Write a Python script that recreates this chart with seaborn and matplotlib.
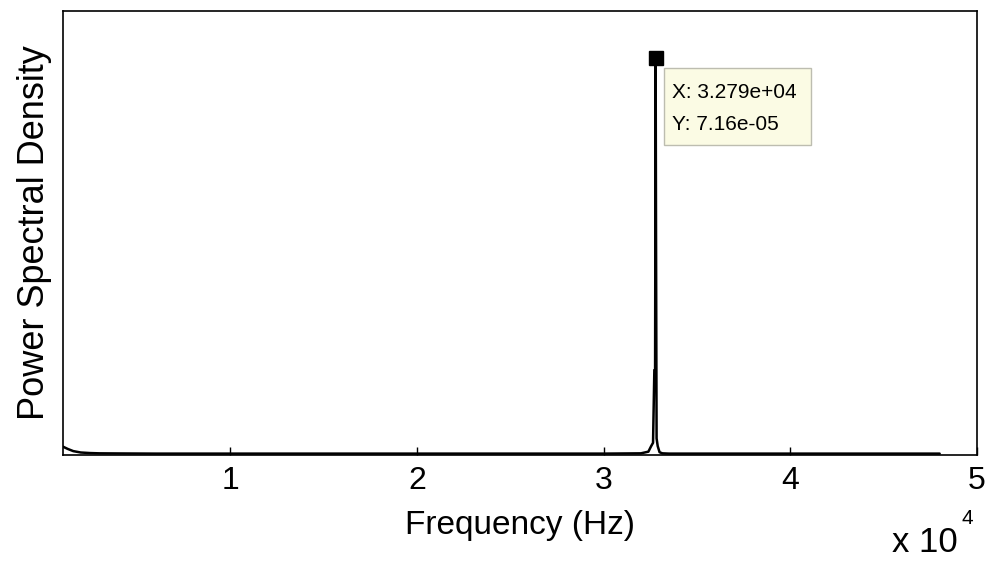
import numpy as np
import pandas as pd
import matplotlib
matplotlib.use("Agg")
import matplotlib.pyplot as plt
import seaborn as sns
from matplotlib.patches import FancyBboxPatch

# ---- data ----
freq_hz = [1050, 1300, 1600, 2000, 2500, 3000, 4000, 6000, 10000, 15000, 20000, 25000,
           30000, 32000, 32400, 32550, 32650, 32720, 32760, 32790, 32810, 32840,
           32900, 33000, 33150, 33500, 36000, 40000, 44000, 48000]
psd = [1.5e-6, 1.1e-6, 0.7e-6, 0.45e-6, 0.35e-6, 0.3e-6, 0.28e-6, 0.25e-6, 0.25e-6, 0.25e-6,
       0.25e-6, 0.25e-6, 0.25e-6, 0.3e-6, 0.6e-6, 1.6e-6, 2.2e-6, 1.53e-5, 1.53e-5, 7.16e-5,
       3.96e-5, 3.0e-6, 1.6e-6, 0.5e-6, 0.3e-6, 0.25e-6, 0.25e-6, 0.25e-6, 0.25e-6, 0.25e-6]
peak_x = 32790
peak_y = 7.16e-5
tick_vals = [10000, 20000, 30000, 40000, 50000]
tick_labels = ["1", "2", "3", "4", "5"]
x_label = "Frequency (Hz)"
y_label = "Power Spectral Density"
tip_lines = ["X: 3.279e+04", "Y: 7.16e-05"]

df = pd.DataFrame({"f": freq_hz, "p": psd})

sns.set_style("white")
plt.rcParams["font.family"] = ["Liberation Sans", "DejaVu Sans"]
plt.rcParams["text.color"] = "black"
plt.rcParams["axes.labelcolor"] = "black"
plt.rcParams["xtick.color"] = "black"

fig = plt.figure(figsize=(9.89, 5.61), dpi=100)
ax = fig.add_axes([63/989, 1-455/561, (977-63)/989, (455-11)/561])

sns.lineplot(data=df, x="f", y="p", ax=ax, color="black", linewidth=1.8,
             estimator=None, sort=False)
ax.plot([peak_x], [peak_y], marker="s", color="black", markersize=10,
        linestyle="none", zorder=5)

ax.set_xlim(1050, 50000)
ax.set_ylim(0, 8e-5)
ax.set_xticks(tick_vals)
ax.set_xticklabels(tick_labels, fontsize=23)
ax.set_yticks([])
ax.tick_params(axis="x", direction="in", length=6, width=1, color="black",
               labelcolor="black", pad=8, bottom=True)
for s in ax.spines.values():
    s.set_color("black")
    s.set_linewidth(1.2)
    s.set_visible(True)

ax.set_xlabel(x_label, fontsize=24, labelpad=10, color="black")
ax.set_ylabel(y_label, fontsize=26, labelpad=8, color="black")

# data tip box
box = FancyBboxPatch((664/989, 1-145/561), (811-664)/989, (145-68)/561,
                     boxstyle="square,pad=0", transform=fig.transFigure,
                     facecolor="#fbfbe4", edgecolor="#bdbdb0", linewidth=1.0,
                     zorder=10)
fig.patches.append(box)
fig.text(672/989, 1-92/561, tip_lines[0], fontsize=15, va="center", ha="left", zorder=11)
fig.text(672/989, 1-124/561, tip_lines[1], fontsize=15, va="center", ha="left", zorder=11)

# exponent label
fig.text(892/989, 1-543/561, "x 10", fontsize=25, va="center", ha="left")
fig.text(962/989, 1-519/561, "4", fontsize=15, va="center", ha="left")

fig.savefig("out.png", dpi=100, facecolor="white")
